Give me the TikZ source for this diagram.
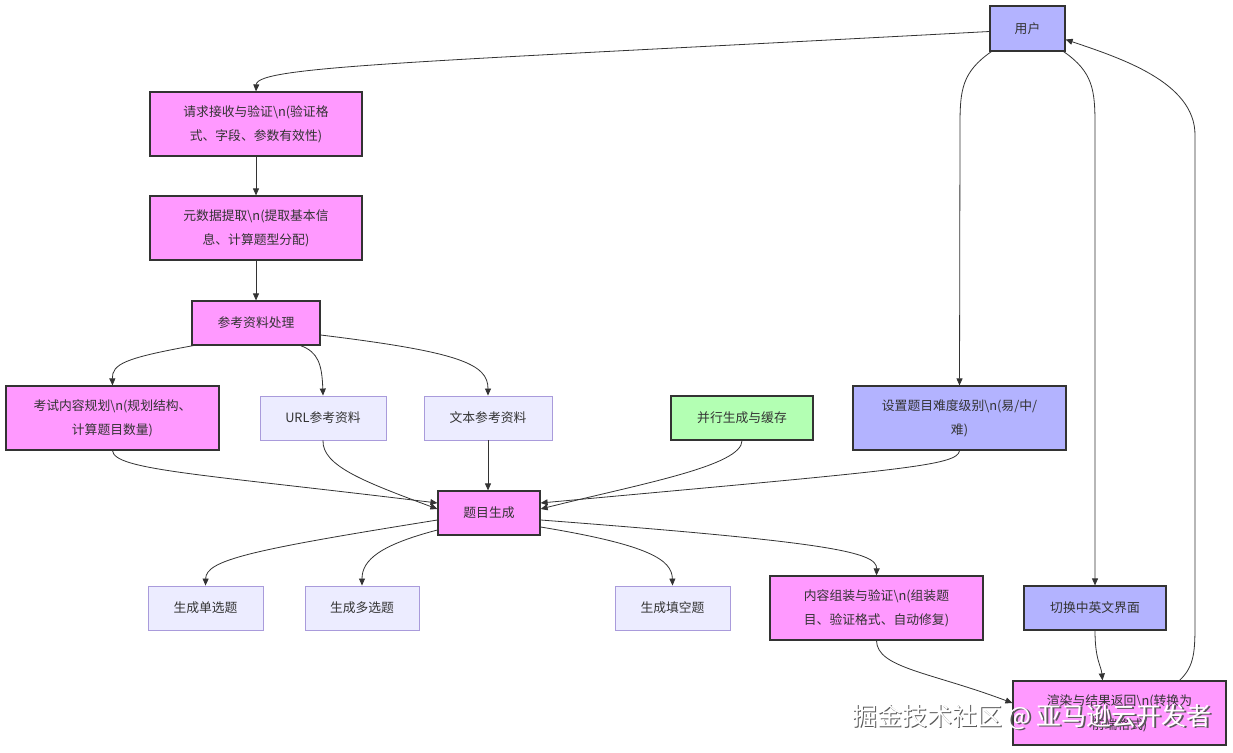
\documentclass[tikz,border=0pt]{standalone}
\usepackage{fontspec}
\setmainfont{Noto Sans CJK SC}
\usetikzlibrary{arrows.meta}
\definecolor{pinkfill}{HTML}{FF99FF}
\definecolor{lavfill}{HTML}{ECECFF}
\definecolor{lavline}{HTML}{A99BDB}
\definecolor{bluefill}{HTML}{B3B3FF}
\definecolor{greenfill}{HTML}{B3FFB3}
\definecolor{darkline}{HTML}{333333}
\definecolor{txtcol}{HTML}{333333}
\tikzset{
  box/.style={rectangle, inner sep=0pt, align=center, font=\fontsize{12.8}{24}\selectfont, text=txtcol},
  pinkbox/.style={box, fill=pinkfill, draw=darkline, line width=1.2pt},
  lavbox/.style={box, fill=lavfill, draw=lavline, line width=0.9pt},
  bluebox/.style={box, fill=bluefill, draw=darkline, line width=1.2pt},
  greenbox/.style={box, fill=greenfill, draw=darkline, line width=1.2pt},
  conn/.style={draw=darkline, line width=0.8pt, -{Triangle[length=7pt,width=6pt]}},
}
\begin{document}
\begin{tikzpicture}[x=1pt,y=-1pt]
\useasboundingbox[fill=white] (0,0) rectangle (1233,752);
\node[bluebox, minimum width=75pt, minimum height=45pt] (user) at (1027.5,28.5) {用户};
\node[pinkbox, minimum width=212pt, minimum height=64pt] (req) at (256,124) {请求接收与验证\textbackslash n(验证格\\式、字段、参数有效性)};
\node[pinkbox, minimum width=212pt, minimum height=64pt] (meta) at (256,228) {元数据提取\textbackslash n(提取基本信\\息、计算题型分配)};
\node[pinkbox, minimum width=128pt, minimum height=44pt] (ref) at (256,323) {参考资料处理};
\node[pinkbox, minimum width=213pt, minimum height=64pt] (plan) at (112.5,418) {考试内容规划\textbackslash n(规划结构、\\计算题目数量)};
\node[lavbox, minimum width=126pt, minimum height=44pt] (url) at (323,418) {URL参考资料};
\node[lavbox, minimum width=128pt, minimum height=44pt] (txt) at (488,418) {文本参考资料};
\node[greenbox, minimum width=142pt, minimum height=44pt] (par) at (742,418) {并行生成与缓存};
\node[bluebox, minimum width=213pt, minimum height=64pt] (diff) at (959.5,418) {设置题目难度级别\textbackslash n(易/中/\\难)};
\node[pinkbox, minimum width=102pt, minimum height=44pt] (gen) at (489,513) {题目生成};
\node[lavbox, minimum width=115pt, minimum height=44pt] (single) at (205.5,608) {生成单选题};
\node[lavbox, minimum width=114pt, minimum height=44pt] (multi) at (362,608) {生成多选题};
\node[lavbox, minimum width=115pt, minimum height=44pt] (blank) at (672.5,608) {生成填空题};
\node[pinkbox, minimum width=213pt, minimum height=64pt] (asm) at (876.5,608) {内容组装与验证\textbackslash n(组装题\\目、验证格式、自动修复)};
\node[bluebox, minimum width=142pt, minimum height=44pt] (lang) at (1095,608) {切换中英文界面};
\node[pinkbox, minimum width=213pt, minimum height=64pt] (render) at (1119.5,713) {渲染与结果返回\textbackslash n(转换为\\前端格式)};

% edges
\draw[conn] ([yshift=-3pt]user.west) .. controls (420,62) and (257,66) .. (req.north);
\draw[conn] (req) -- (meta);
\draw[conn] (meta) -- (ref);
\draw[conn] ([xshift=2pt]ref.south west) .. controls (125,358) and (112,364) .. (plan.north);
\draw[conn] ([xshift=-20pt]ref.south east) .. controls (318,352) and (322,364) .. (url.north);
\draw[conn] ([yshift=-12pt]ref.east) .. controls (460,352) and (488,364) .. (txt.north);
\draw[conn] ([xshift=2pt]user.south west) .. controls (962,72) and (960,90) .. (960,125) -- (diff.north);
\draw[conn] ([xshift=-2pt]user.south east) .. controls (1093,72) and (1095,90) .. (1095,125) -- (lang.north);
\draw[conn] (plan.south) .. controls (114,470) and (200,474) .. ([yshift=10pt]gen.west);
\draw[conn] (url.south) .. controls (322,466) and (365,482) .. ([yshift=4pt]gen.west);
\draw[conn] (txt.south) -- ([xshift=-1pt]gen.north);
\draw[conn] (par.south) .. controls (742,466) and (640,484) .. ([yshift=4pt]gen.east);
\draw[conn] (diff.south) .. controls (958,466) and (900,470) .. ([yshift=10pt]gen.east);
\draw[conn] ([yshift=-7pt]gen.west) .. controls (250,550) and (206,560) .. (single.north);
\draw[conn] ([yshift=-17pt]gen.west) .. controls (380,545) and (362,560) .. (multi.north);
\draw[conn] ([yshift=-14pt]gen.east) .. controls (650,545) and (672,560) .. (blank.north);
\draw[conn] ([yshift=-7pt]gen.east) .. controls (830,542) and (877,552) .. (asm.north);
\draw[conn] (asm.south) .. controls (877,668) and (930,672) .. ([yshift=10pt]render.west);
\draw[conn] (lang.south) .. controls (1095,660) and (1101,665) .. ([xshift=-17pt]render.north);
\draw[conn] ([xshift=60pt]render.north) .. controls (1195,666) and (1195,650) .. (1195,620) -- (1195,135) .. controls (1195,82) and (1120,58) .. ([yshift=-11pt]user.east);

% watermark
\node[font=\fontsize{25}{30}\selectfont, text=gray!70!black] (wmshadow) at (1033.5,718.5) {掘金技术社区 @ 亚马逊云开发者};
\node[font=\fontsize{25}{30}\selectfont, text=white] (wm) at (1032,717) {掘金技术社区 @ 亚马逊云开发者};
\end{tikzpicture}
\end{document}
